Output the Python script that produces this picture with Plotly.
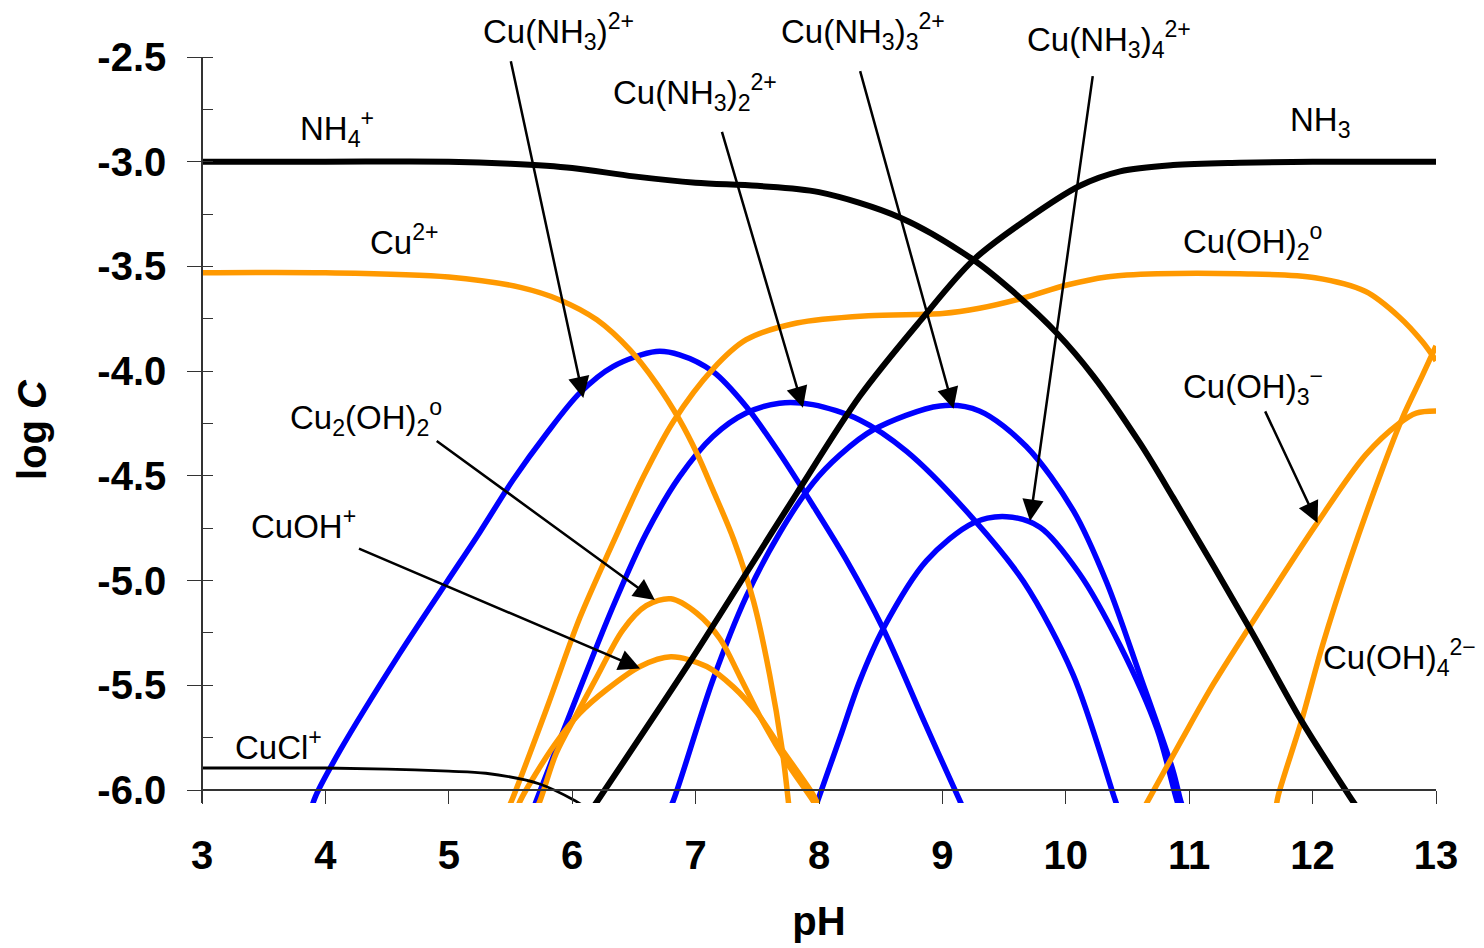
import plotly.graph_objects as go

# ---------------- data (pH, log C) ----------------
nh4_ph = [3.0, 4.0, 5.0, 5.5, 6.0, 6.5, 7.0, 7.5, 8.0, 8.66, 9.25, 9.57, 9.93, 10.22, 10.6, 10.87, 11.5, 11.91, 12.3, 12.38]
nh4_c = [-3.0, -3.0, -3.0, -3.01, -3.03, -3.07, -3.10, -3.115, -3.145, -3.267, -3.468, -3.619, -3.82, -4.021, -4.343, -4.604, -5.238, -5.67, -6.03, -6.1]

nh3_ph = [6.15, 6.93, 7.41, 7.82, 8.33, 8.82, 9.25, 9.68, 10.11, 10.44, 10.87, 11.41, 12.0, 13.0]
nh3_c = [-6.1, -5.41, -4.965, -4.583, -4.12, -3.76, -3.47, -3.277, -3.116, -3.046, -3.016, -3.005, -3.0, -3.0]

cucl_ph = [3.0, 4.0, 4.5, 5.0, 5.3, 5.73, 6.02, 6.1]
cucl_c = [-5.895, -5.895, -5.90, -5.91, -5.92, -5.97, -6.05, -6.08]

cu_ph = [3.0, 4.0, 5.0, 5.58, 5.90, 6.20, 6.47, 6.68, 6.87, 7.01, 7.14, 7.31, 7.47, 7.60, 7.70, 7.76]
cu_c = [-3.53, -3.53, -3.55, -3.60, -3.66, -3.755, -3.90, -4.057, -4.233, -4.392, -4.567, -4.806, -5.10, -5.45, -5.80, -6.1]

cuoh2_ph = [5.47, 5.51, 5.8, 6.06, 6.33, 6.58, 6.82, 7.14, 7.41, 7.82, 8.4, 9.0, 9.30, 9.66, 10.0, 10.33, 10.74, 11.41, 12.02, 12.43, 12.70, 12.89, 13.0]
cuoh2_c = [-6.1, -6.05, -5.6, -5.18, -4.82, -4.50, -4.24, -3.99, -3.85, -3.77, -3.735, -3.725, -3.70, -3.65, -3.59, -3.55, -3.535, -3.535, -3.554, -3.62, -3.74, -3.86, -3.95]

cu2oh2_ph = [5.70, 5.74, 5.87, 6.04, 6.20, 6.41, 6.60, 6.80, 7.01, 7.20, 7.36, 7.55, 7.74, 7.95, 8.0]
cu2oh2_c = [-6.1, -6.05, -5.825, -5.634, -5.46, -5.236, -5.12, -5.087, -5.156, -5.28, -5.46, -5.68, -5.87, -6.05, -6.1]

cuoh_ph = [5.55, 5.58, 5.85, 6.06, 6.28, 6.55, 6.80, 7.09, 7.31, 7.50, 7.68, 7.95, 8.0]
cuoh_c = [-6.1, -6.05, -5.79, -5.634, -5.52, -5.41, -5.364, -5.41, -5.51, -5.634, -5.79, -6.02, -6.08]

cuoh3_ph = [10.62, 10.93, 11.20, 11.61, 12.02, 12.43, 12.70, 12.84, 13.0]
cuoh3_c = [-6.1, -5.77, -5.49, -5.11, -4.74, -4.40, -4.25, -4.20, -4.19]

cuoh4_ph = [11.70, 11.72, 11.91, 12.08, 12.30, 12.57, 12.73, 12.89, 13.0]
cuoh4_c = [-6.1, -6.03, -5.67, -5.31, -4.906, -4.46, -4.22, -4.02, -3.88]

cunh3_ph = [3.88, 3.92, 4.12, 4.60, 4.98, 5.25, 5.52, 5.79, 6.06, 6.33, 6.68, 6.87, 7.14, 7.41, 7.68, 7.95, 8.22, 8.52, 8.85, 9.14, 9.18]
cunh3_c = [-6.1, -6.03, -5.81, -5.35, -5.01, -4.77, -4.52, -4.30, -4.105, -3.978, -3.906, -3.922, -4.002, -4.169, -4.392, -4.64, -4.90, -5.23, -5.67, -6.05, -6.1]

cunh3_2_ph = [5.68, 5.71, 6.06, 6.33, 6.60, 6.87, 7.14, 7.41, 7.68, 7.95, 8.33, 8.71, 9.25, 9.66, 10.06, 10.39, 10.43]
cunh3_2_c = [-6.1, -6.05, -5.52, -5.125, -4.774, -4.504, -4.312, -4.20, -4.153, -4.16, -4.233, -4.383, -4.705, -5.007, -5.45, -6.03, -6.1]

cunh3_3_ph = [6.78, 6.82, 7.14, 7.41, 7.68, 7.95, 8.17, 8.44, 8.98, 9.30, 9.68, 10.06, 10.33, 10.60, 10.87, 10.93, 10.96]
cunh3_3_c = [-6.1, -6.05, -5.475, -5.077, -4.774, -4.535, -4.40, -4.28, -4.166, -4.19, -4.36, -4.665, -5.007, -5.45, -5.91, -6.05, -6.1]

cunh3_4_ph = [7.96, 7.99, 8.17, 8.33, 8.52, 8.87, 9.25, 9.52, 9.79, 10.11, 10.44, 10.74, 10.90, 10.93]
cunh3_4_c = [-6.1, -6.05, -5.75, -5.48, -5.23, -4.906, -4.725, -4.695, -4.745, -4.966, -5.31, -5.71, -6.05, -6.1]

x_tick_vals = [3, 4, 5, 6, 7, 8, 9, 10, 11, 12, 13]
x_tick_labels = ["3", "4", "5", "6", "7", "8", "9", "10", "11", "12", "13"]
y_tick_vals = [-2.5, -3.0, -3.5, -4.0, -4.5, -5.0, -5.5, -6.0]
y_tick_labels = ["-2.5", "-3.0", "-3.5", "-4.0", "-4.5", "-5.0", "-5.5", "-6.0"]

# labels: (text, pH of left edge, log C of centre)
labels = [
    ("NH<sub>4</sub><sup>+</sup>", 3.778, -2.842),
    ("NH<sub>3</sub>", 11.80, -2.809),
    ("Cu<sup>2+</sup>", 4.345, -3.373),
    ("Cu(OH)<sub>2</sub><sup>o</sup>", 10.93, -3.382),
    ("Cu(OH)<sub>3</sub><sup>\u2212</sup>", 10.93, -4.075),
    ("Cu(OH)<sub>4</sub><sup>2\u2212</sup>", 12.07, -5.365),
    ("CuCl<sup>+</sup>", 3.251, -5.785),
    ("CuOH<sup>+</sup>", 3.381, -4.730),
    ("Cu<sub>2</sub>(OH)<sub>2</sub><sup>o</sup>", 3.697, -4.223),
    ("Cu(NH<sub>3</sub>)<sup>2+</sup>", 5.261, -2.379),
    ("Cu(NH<sub>3</sub>)<sub>2</sub><sup>2+</sup>", 6.314, -2.670),
    ("Cu(NH<sub>3</sub>)<sub>3</sub><sup>2+</sup>", 7.676, -2.379),
    ("Cu(NH<sub>3</sub>)<sub>4</sub><sup>2+</sup>", 9.669, -2.417),
]

# arrows: (tail pH, tail logC, tip pH, tip logC)
arrows = [
    (5.50, -2.513, 6.09, -4.128),
    (7.21, -2.85, 7.87, -4.175),
    (8.33, -2.56, 9.09, -4.18),
    (10.22, -2.584, 9.71, -4.715),
    (4.89, -4.328, 6.67, -5.093),
    (4.26, -4.844, 6.55, -5.42),
    (11.61, -4.185, 12.04, -4.725),
]

Y_MIN, Y_MAX = -6.062, -2.5
BLACK, ORANGE, BLUE = "#000000", "#FF9900", "#0000FF"
FONT = "Arial, 'Liberation Sans', sans-serif"

series = [
    (cunh3_ph, cunh3_c, BLUE, 5.5),
    (cunh3_2_ph, cunh3_2_c, BLUE, 5.5),
    (cunh3_3_ph, cunh3_3_c, BLUE, 5.5),
    (cunh3_4_ph, cunh3_4_c, BLUE, 5.5),
    (cu_ph, cu_c, ORANGE, 5.5),
    (cuoh2_ph, cuoh2_c, ORANGE, 5.5),
    (cu2oh2_ph, cu2oh2_c, ORANGE, 5.5),
    (cuoh_ph, cuoh_c, ORANGE, 5.5),
    (cuoh3_ph, cuoh3_c, ORANGE, 5.5),
    (cuoh4_ph, cuoh4_c, ORANGE, 5.5),
    (nh4_ph, nh4_c, BLACK, 6),
    (nh3_ph, nh3_c, BLACK, 6),
    (cucl_ph, cucl_c, BLACK, 2.8),
]

fig = go.Figure()
for xs, ys, col, w in series:
    fig.add_trace(go.Scatter(x=xs, y=ys, mode="lines",
                             line=dict(color=col, width=w, shape="spline", smoothing=0.9),
                             showlegend=False, hoverinfo="skip"))

x_pos = (-6.0 - Y_MIN) / (Y_MAX - Y_MIN)


def paper_y(v):
    return (v - Y_MIN) / (Y_MAX - Y_MIN)


annotations = []
for txt, xl, yc in labels:
    if yc > Y_MAX:
        annotations.append(dict(text=txt, x=xl, y=paper_y(yc), xref="x", yref="paper",
                                xanchor="left", yanchor="middle", showarrow=False,
                                font=dict(family=FONT, size=33, color="black")))
    else:
        annotations.append(dict(text=txt, x=xl, y=yc, xref="x", yref="y",
                                xanchor="left", yanchor="middle", showarrow=False,
                                font=dict(family=FONT, size=33, color="black")))
for tx, ty, hx, hy in arrows:
    annotations.append(dict(text="", x=hx, y=hy, ax=tx, ay=ty, xref="x", yref="y",
                            axref="x", ayref="y", showarrow=True, arrowhead=2,
                            arrowsize=1.7, arrowwidth=2.5, arrowcolor="black", standoff=0))

tick_font = dict(family=FONT, size=40, color="black", weight="bold")
AXC = "#333333"

# the page places the figure 8 px in from the top-left corner
fig.update_layout(
    width=1476, height=940,
    margin=dict(l=194, r=48, t=49, b=145),
    paper_bgcolor="white", plot_bgcolor="white",
    showlegend=False,
    annotations=annotations,
    xaxis=dict(range=[3, 13], anchor="free", position=x_pos,
               tickmode="array", tickvals=x_tick_vals, ticktext=x_tick_labels,
               showline=True, linecolor=AXC, linewidth=1.5,
               ticks="outside", ticklen=13, tickwidth=1.3, tickcolor=AXC,
               tickfont=tick_font, ticklabelstandoff=17,
               showgrid=False, zeroline=False,
               title=dict(text="pH", font=dict(family=FONT, size=40, color="black", weight="bold"),
                          standoff=30)),
    xaxis2=dict(range=[3, 13], anchor="free", position=x_pos, overlaying="x",
                tickmode="array", tickvals=x_tick_vals, showticklabels=False,
                showline=False, ticks="inside", ticklen=13, tickwidth=1.3, tickcolor=AXC,
                showgrid=False, zeroline=False),
    yaxis=dict(range=[Y_MIN, Y_MAX], anchor="free", position=0,
               tickmode="array", tickvals=y_tick_vals, ticktext=y_tick_labels,
               showline=True, linecolor=AXC, linewidth=1.5,
               ticks="outside", ticklen=14, tickwidth=1.3, tickcolor=AXC,
               minor=dict(tickmode="linear", tick0=-2.5, dtick=0.25, ticks="inside",
                          ticklen=10, tickwidth=1.3, tickcolor=AXC, showgrid=False),
               tickfont=tick_font, ticklabelstandoff=13,
               showgrid=False, zeroline=False,
               title=dict(text="log <i>C</i>", font=dict(family=FONT, size=40, color="black", weight="bold"),
                          standoff=37)),
    yaxis2=dict(range=[Y_MIN, Y_MAX], anchor="free", position=0, overlaying="y",
                tickmode="array", tickvals=y_tick_vals, showticklabels=False,
                showline=False, ticks="inside", ticklen=13, tickwidth=1.3, tickcolor=AXC,
                showgrid=False, zeroline=False),
)

fig.write_html("out.html")
